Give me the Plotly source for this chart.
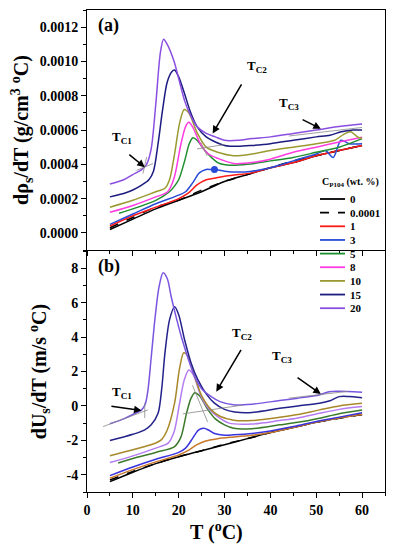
import plotly.graph_objects as go

# ---------------- data ----------------
conc_labels = ["0", "0.0001", "1", "3", "5", "8", "10", "15", "20"]
colors_top = ["#000000", "#000000", "#ff1a1a", "#2a4bd7", "#1f8f2f", "#ff3ce0", "#9a9a30", "#1c1c80", "#8a4fe0"]
colors_bot = ["#000000", "#000000", "#c8782a", "#3b33dd", "#3a7a2a", "#b57cf0", "#a8882a", "#22228a", "#7a55e0"]
dashes = ["solid", "dash", "solid", "solid", "solid", "solid", "solid", "solid", "solid"]

# panel (a): d(rho_s)/dT
rho_T = [
    [5, 10, 15, 20, 25, 30, 35, 40, 45, 50, 55, 60],
    [5, 10, 15, 20, 25, 30, 35, 40, 45, 50, 55, 60],
    [5, 10, 15, 20, 22, 24, 26, 28, 30, 33, 36, 40, 45, 50, 55, 60],
    [5, 10, 15, 20, 21.5, 23, 24.5, 26, 27, 28, 30, 33, 36, 40, 45, 50, 52, 53.7, 55.4, 57.2, 60],
    [7, 10, 15, 18, 19, 20, 21.3, 22.3, 23.1, 24, 25.7, 28.5, 31, 35, 40, 45, 50, 55, 60],
    [5, 10, 15, 17.6, 19, 20.5, 21.5, 22.2, 23, 24.9, 26.5, 28.5, 32, 36, 40, 45, 50, 55, 60],
    [5, 10, 15, 17, 18, 19.1, 20.2, 21.2, 22.2, 24.1, 26, 28.5, 32, 36, 40, 45, 50, 54, 56, 57.5, 59, 60],
    [5, 8, 10, 12, 13.5, 14.5, 15.5, 16.5, 17.5, 18.5, 19.1, 20, 21.3, 22.5, 24, 26, 28, 30, 33, 36, 40, 45, 50, 53, 55.5, 58, 60],
    [5, 8, 10, 12, 13, 14, 15, 16, 16.7, 17.5, 19, 20, 21.3, 22.5, 24, 26, 28, 30, 33, 36, 40, 45, 50, 55, 60],
]
rho_Y = [
    [0.00002, 0.00008, 0.00014, 0.00019, 0.00024, 0.0003, 0.00034, 0.00038, 0.00041, 0.00045, 0.00048, 0.00051],
    [0.00003, 0.00009, 0.00015, 0.00019, 0.00025, 0.0003, 0.00034, 0.00038, 0.00042, 0.00045, 0.00048, 0.00051],
    [0.00004, 0.0001, 0.00015, 0.0002, 0.00023, 0.00028, 0.00031, 0.00032, 0.00033, 0.00034, 0.00035, 0.00038, 0.00041, 0.00045, 0.00048, 0.00051],
    [0.00005, 0.00011, 0.00017, 0.00022, 0.00024, 0.00029, 0.00035, 0.00037, 0.00037, 0.00037, 0.00036, 0.000355, 0.00036, 0.00038, 0.00042, 0.00046, 0.00048, 0.00044, 0.00054, 0.00052, 0.00052],
    [0.000115, 0.00014, 0.00019, 0.00024, 0.00027, 0.00031, 0.00042, 0.00052, 0.000555, 0.00054, 0.00048, 0.00041, 0.000395, 0.0004, 0.00042, 0.00044, 0.00047, 0.0005, 0.00055],
    [0.00012, 0.00016, 0.00021, 0.00024, 0.00032, 0.00052, 0.00062, 0.000645, 0.00062, 0.00051, 0.00046, 0.000435, 0.000405, 0.00041, 0.00043, 0.00047, 0.0005, 0.00053, 0.000558],
    [0.00015, 0.00019, 0.00024, 0.00026, 0.00031, 0.00046, 0.00064, 0.00072, 0.0007, 0.00058, 0.0005, 0.00047, 0.00045, 0.00046, 0.00048, 0.0005, 0.00052, 0.00054, 0.000575, 0.00059, 0.00056, 0.00055],
    [0.00021, 0.00023, 0.00025, 0.00028, 0.00031, 0.00036, 0.00052, 0.00072, 0.00088, 0.00094, 0.00095, 0.00091, 0.00081, 0.00071, 0.00062, 0.00056, 0.00053, 0.00051, 0.000505, 0.00051, 0.00052, 0.00054, 0.00056, 0.00057, 0.00059, 0.0006, 0.0006],
    [0.000285, 0.00031, 0.00034, 0.00037, 0.0004, 0.00049, 0.00075, 0.00105, 0.00113, 0.0011, 0.001, 0.0009, 0.00077, 0.00069, 0.00062, 0.00058, 0.00056, 0.00054, 0.00054, 0.00055, 0.00056, 0.00058, 0.0006, 0.00062, 0.000635],
]
rho_marker_T = [27.8]
rho_marker_Y = [0.000369]

# panel (b): dU_s/dT
U_T = [
    [5, 10, 15, 20, 25, 30, 35, 40, 45, 50, 55, 60],
    [5, 10, 15, 20, 25, 30, 35, 40, 45, 50, 55, 60],
    [5, 10, 15, 20, 22, 24, 25.7, 28.5, 32, 36, 40, 45, 50, 55, 60],
    [5, 10, 15, 20, 21.5, 23, 24.3, 25.5, 26.5, 27.8, 30, 32, 36, 40, 45, 50, 55, 60],
    [6.8, 10, 15, 19.1, 20.5, 21.7, 22.7, 23.5, 24.5, 26.4, 28, 30, 32, 36, 42, 46, 50.7, 55, 60],
    [5, 10, 15, 17.7, 19, 20.2, 21.2, 22.2, 23.2, 24.9, 26.5, 28.5, 31, 36, 42, 46, 50.7, 55, 60],
    [5, 10, 15, 16.2, 17.5, 19.1, 20.2, 21.1, 22, 23.5, 25, 27.1, 29, 32, 36, 42, 46, 50.7, 55, 60],
    [5, 8, 10, 12.6, 14, 15.5, 16.3, 17, 18, 19.1, 20, 21.3, 22.7, 24.2, 26, 27.8, 30, 32.2, 36, 42, 46, 50.7, 53, 55, 57, 60],
    [5, 8, 10, 11.9, 12.7, 13.3, 14, 14.8, 15.7, 16.6, 17.5, 18.4, 19.5, 20.6, 22, 23.5, 25, 27.1, 29, 32.2, 36, 42, 46, 50.7, 52.8, 55, 60],
]
U_Y = [
    [-4.4, -3.85, -3.35, -2.95, -2.6, -2.25, -1.9, -1.55, -1.25, -0.95, -0.7, -0.5],
    [-4.3, -3.8, -3.35, -2.95, -2.6, -2.22, -1.9, -1.55, -1.25, -0.95, -0.72, -0.5],
    [-4.2, -3.7, -3.25, -2.85, -2.6, -2.25, -2.05, -1.9, -1.8, -1.7, -1.55, -1.25, -0.95, -0.7, -0.5],
    [-4.05, -3.55, -3.1, -2.7, -2.45, -1.9, -1.4, -1.3, -1.4, -1.6, -1.7, -1.68, -1.6, -1.45, -1.2, -0.9, -0.65, -0.4],
    [-3.32, -3.05, -2.7, -2.36, -1.8, -0.43, 0.45, 0.77, 0.6, -0.23, -0.75, -1.1, -1.3, -1.32, -1.1, -0.95, -0.71, -0.45, -0.23],
    [-3.29, -2.9, -2.45, -2.16, -1.5, 0.16, 1.5, 2.09, 1.8, 0.54, -0.15, -0.62, -1.0, -1.05, -0.85, -0.7, -0.43, -0.2, -0.04],
    [-2.9, -2.55, -2.15, -1.97, -1.4, 0.16, 2.2, 3.09, 2.9, 1.7, 0.6, -0.23, -0.6, -0.83, -0.85, -0.66, -0.5, -0.23, 0.0, 0.15],
    [-2.01, -1.8, -1.65, -1.39, -1.1, -0.43, 1.0, 3.07, 5.0, 5.76, 5.3, 3.83, 2.5, 1.51, 0.7, 0.16, -0.2, -0.35, -0.38, -0.14, 0.0, 0.15, 0.3, 0.54, 0.55, 0.48],
    [-1.04, -0.75, -0.5, -0.23, 0.1, 0.93, 2.8, 5.0, 6.9, 7.73, 7.4, 6.3, 5.1, 4.0, 2.8, 1.7, 1.0, 0.54, 0.25, 0.06, 0.1, 0.31, 0.45, 0.64, 0.83, 0.85, 0.79],
]

x_ticks = [0, 10, 20, 30, 40, 50, 60]
rho_ticks = [0.0, 0.0002, 0.0004, 0.0006, 0.0008, 0.0010, 0.0012]
rho_ticktext = ["0.0000", "0.0002", "0.0004", "0.0006", "0.0008", "0.0010", "0.0012"]
U_ticks = [-4, -2, 0, 2, 4, 6, 8]
U_ticktext = ["-4", "-2", "0", "2", "4", "6", "8"]

# tangent construction lines (data coordinates): (x0, y0, x1, y1)
tangents_top = [(10.8, 0.000365, 14.4, 0.000404), (12.2, 0.000346, 13.0, 0.000442),
                (24.0, 0.00049, 30.0, 0.000515), (24.8, 0.00053, 26.2, 0.00045),
                (44.0, 0.000565, 60.0, 0.000615)]
tangents_bot = [(3.5, -1.2, 13.3, -0.23), (12.6, 0.19, 12.6, -0.71),
                (20.9, -0.46, 34.0, 0.05), (23.0, 1.2, 26.3, -0.93),
                (44.0, 0.45, 57.0, 0.85)]

# ---------------- figure ----------------
FONT = "Liberation Serif"
PAGE_PAD = 8                      # default page body margin around the plot div
W, H = 395 - PAGE_PAD, 550 - PAGE_PAD
ML, MR, MT, MB = 87 - PAGE_PAD, 10, 10 - PAGE_PAD, 58
PW, PH = W - ML - MR, H - MT - MB


def px2paper(px, py):
    """window pixel -> paper coordinates"""
    return (px - PAGE_PAD - ML) / PW, (H - MB - (py - PAGE_PAD)) / PH


fig = go.Figure()
for i, lab in enumerate(conc_labels):
    fig.add_trace(go.Scatter(
        x=rho_T[i], y=rho_Y[i], mode="lines", name=lab,
        line=dict(color=colors_top[i], width=1.5, dash=dashes[i], shape="spline", smoothing=0.8),
        xaxis="x", yaxis="y", showlegend=False))
fig.add_trace(go.Scatter(x=rho_marker_T, y=rho_marker_Y, mode="markers",
                         marker=dict(color=colors_top[3], size=7), showlegend=False,
                         xaxis="x", yaxis="y"))
for i, lab in enumerate(conc_labels):
    fig.add_trace(go.Scatter(
        x=U_T[i], y=U_Y[i], mode="lines", name=lab,
        line=dict(color=colors_bot[i], width=1.5, dash=dashes[i], shape="spline", smoothing=0.8),
        xaxis="x2", yaxis="y2", showlegend=False))

shapes = []
for (x0, y0, x1, y1) in tangents_top:
    shapes.append(dict(type="line", xref="x", yref="y", x0=x0, y0=y0, x1=x1, y1=y1,
                       line=dict(color="#888888", width=0.8)))
for (x0, y0, x1, y1) in tangents_bot:
    shapes.append(dict(type="line", xref="x2", yref="y2", x0=x0, y0=y0, x1=x1, y1=y1,
                       line=dict(color="#888888", width=0.8)))

ann = []
# compact legend, laid out like the reference
leg_x0, leg_x1, leg_tx = 320, 345, 348
leg_title_y, leg_row0, leg_step = 183, 199, 13.65
tx, ty = px2paper(leg_x0, leg_title_y)
ann.append(dict(text="<b>C<sub>P104</sub> (wt. %)</b>", xref="paper", yref="paper", x=tx, y=ty,
                xanchor="left", yanchor="middle", showarrow=False,
                font=dict(family=FONT, size=10, color="black")))
for i, lab in enumerate(conc_labels):
    py = leg_row0 + i * leg_step
    a0, b0 = px2paper(leg_x0, py)
    a1, _ = px2paper(leg_x1, py)
    shapes.append(dict(type="line", xref="paper", yref="paper", x0=a0, x1=a1, y0=b0, y1=b0,
                       line=dict(color=colors_top[i], width=1.8, dash=dashes[i])))
    t0, _ = px2paper(leg_tx, py)
    ann.append(dict(text="<b>%s</b>" % lab, xref="paper", yref="paper", x=t0, y=b0,
                    xanchor="left", yanchor="middle", showarrow=False,
                    font=dict(family=FONT, size=11, color="black")))

tick_font = dict(family=FONT, size=14, color="black")
axis_common = dict(showline=True, linecolor="black", linewidth=1, mirror=True,
                   ticks="outside", ticklen=5, tickwidth=1, tickcolor="black",
                   showgrid=False, zeroline=False, tickfont=tick_font, automargin=False)

fig.update_layout(
    width=W, height=H,
    margin=dict(l=ML, r=MR, t=MT, b=MB, autoexpand=False),
    plot_bgcolor="white", paper_bgcolor="white",
    font=dict(family=FONT, color="black"),
    xaxis=dict(domain=[0, 1], range=[0, 65], anchor="y", tickvals=x_ticks, showticklabels=False,
               minor=dict(ticks="outside", ticklen=3, dtick=5, tickcolor="black"), **axis_common),
    yaxis=dict(domain=[0.502, 1], range=[-0.0001, 0.0013], anchor="x",
               tickvals=rho_ticks, ticktext=["<b>%s</b>" % t for t in rho_ticktext],
               minor=dict(ticks="outside", ticklen=3, dtick=0.0001, tickcolor="black"),
               title=dict(text="<b>dρ<sub>s</sub>/dT (g/cm<sup>3</sup> <sup>o</sup>C)</b>",
                          font=dict(family=FONT, size=20), standoff=6), **axis_common),
    xaxis2=dict(domain=[0, 1], range=[0, 65], anchor="y2", tickvals=x_ticks,
                ticktext=["<b>%d</b>" % t for t in x_ticks],
                minor=dict(ticks="outside", ticklen=3, dtick=5, tickcolor="black"), **axis_common),
    yaxis2=dict(domain=[0, 0.5], range=[-5, 9], anchor="x2",
                tickvals=U_ticks, ticktext=["<b>%s</b>" % t for t in U_ticktext],
                minor=dict(ticks="outside", ticklen=3, dtick=1, tickcolor="black"),
                title=dict(text="<b>dU<sub>s</sub>/dT (m/s <sup>o</sup>C)</b>",
                           font=dict(family=FONT, size=20), standoff=14), **axis_common),
    shapes=shapes,
    showlegend=False,
)

lab_font = dict(family=FONT, size=13, color="black")
ann.append(dict(text="<b>(a)</b>", xref="x", yref="y", x=2, y=0.00121, xanchor="left",
                showarrow=False, font=dict(family=FONT, size=18, color="black")))
ann.append(dict(text="<b>(b)</b>", xref="x2", yref="y2", x=2, y=8.1, xanchor="left",
                showarrow=False, font=dict(family=FONT, size=18, color="black")))
ann += [
    dict(text="<b>T<sub>C1</sub></b>", xref="x", yref="y", x=7.6, y=0.000555, showarrow=False, font=lab_font),
    dict(text="<b>T<sub>C2</sub></b>", xref="x", yref="y", x=37, y=0.00097, showarrow=False, font=lab_font),
    dict(text="<b>T<sub>C3</sub></b>", xref="x", yref="y", x=44.1, y=0.000755, showarrow=False, font=lab_font),
    dict(text="<b>T<sub>C1</sub></b>", xref="x2", yref="y2", x=7.6, y=0.8, showarrow=False, font=lab_font),
    dict(text="<b>T<sub>C2</sub></b>", xref="x2", yref="y2", x=33.9, y=4.2, showarrow=False, font=lab_font),
    dict(text="<b>T<sub>C3</sub></b>", xref="x2", yref="y2", x=42.6, y=2.9, showarrow=False, font=lab_font),
]
arrows = [
    ("x", "y", 12.6, 0.000383, 8.9, 0.000464),
    ("x", "y", 27.4, 0.00058, 33.9, 0.000875),
    ("x", "y", 51.0, 0.000607, 46.7, 0.000665),
    ("x2", "y2", 11.9, -0.27, 5.0, 0.0),
    ("x2", "y2", 28.2, 0.83, 33.8, 3.34),
    ("x2", "y2", 51.0, 0.7, 45.6, 1.7),
]
for xr, yr, hx, hy, tx_, ty_ in arrows:
    ann.append(dict(text="", xref=xr, yref=yr, axref=xr, ayref=yr, x=hx, y=hy, ax=tx_, ay=ty_,
                    showarrow=True, arrowhead=2, arrowsize=1, arrowwidth=1.5, arrowcolor="black"))
xt, yt = px2paper(216, 531)
ann.append(dict(text="<b>T (<sup>o</sup>C)</b>", xref="paper", yref="paper",
                x=xt, y=yt, xanchor="center", yanchor="middle",
                showarrow=False, font=dict(family=FONT, size=20, color="black")))
fig.update_layout(annotations=ann)

fig.write_html("out.html")
